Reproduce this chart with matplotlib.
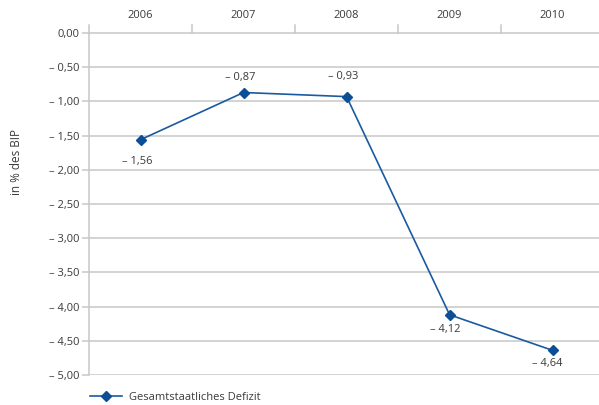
import matplotlib
matplotlib.use("Agg")
import matplotlib.pyplot as plt
import numpy as np

plt.rcParams['font.family'] = ['Open Sans', 'DejaVu Sans']

years = ["2006", "2007", "2008", "2009", "2010"]
deficit = [-1.56, -0.87, -0.93, -4.12, -4.64]
yticks = [0.0, -0.5, -1.0, -1.5, -2.0, -2.5, -3.0, -3.5, -4.0, -4.5, -5.0]

def fmt(v):
  s = ("%.2f" % abs(v)).replace(".", ",")
  if v < 0:
    s = "\u2013 " + s
  return s

W, H = 599, 405
fig = plt.figure(figsize=(W/100, H/100), dpi=100)
left, right, top, bottom = 89, 599, 25, 375
ax = fig.add_axes([left/W, 1 - bottom/H, (right-left)/W, (bottom-top)/H])

txtcol = '#3a3a3a'
gridcol = '#c8c8c8'
linecol = '#1a5aa0'
fs = 8

x = np.arange(len(years))
ax.set_xlim(-0.5, 4.45)
ax.set_ylim(-5.0, 0.117)

# grid lines
for v in yticks:
  ax.axhline(v, color=gridcol, lw=1.1, zorder=1)
# category separators on the top axis
for b in np.arange(0.5, len(years) - 0.5, 1.0):
  ax.plot([b, b], [0, 0.117], color=gridcol, lw=1.1, zorder=1, clip_on=False)

for s in ['top', 'right', 'bottom']:
  ax.spines[s].set_visible(False)
ax.spines['left'].set_color(gridcol)
ax.spines['left'].set_linewidth(1.1)

ax.set_yticks(yticks)
ax.set_yticklabels([fmt(v) for v in yticks])
ax.tick_params(axis='y', length=5, width=1.1, color=gridcol, labelsize=fs,
               labelcolor=txtcol, pad=2)

ax.xaxis.tick_top()
ax.set_xticks(x)
ax.set_xticklabels(years)
ax.tick_params(axis='x', length=0, labelsize=fs, labelcolor=txtcol, pad=3)

ax.set_ylabel("in % des BIP", fontsize=8.5, color=txtcol)
ax.yaxis.set_label_coords(-66/(right-left), (bottom-162)/(bottom-top))

ln, = ax.plot(x, deficit, color=linecol, lw=1.2, marker='D', markersize=5,
              markerfacecolor='#0d4f96', markeredgecolor='#0d4f96', zorder=3,
              label="Gesamtstaatliches Defizit")

offsets = [(-3, -22), (-3, 15), (-3, 20), (-4, -15), (-5, -13)]
for xi, v, off in zip(x, deficit, offsets):
  ax.annotate(fmt(v), (xi, v), xytext=off, textcoords='offset pixels',
              ha='center', va='center', fontsize=fs, color=txtcol)

fig.legend(handles=[ln], loc='center left', bbox_to_anchor=(90/W, 1 - 397/H),
           frameon=False, fontsize=fs, handlelength=2.9, handletextpad=0.6,
           labelcolor=txtcol, borderaxespad=0, borderpad=0)

fig.savefig("out.png", dpi=100)
